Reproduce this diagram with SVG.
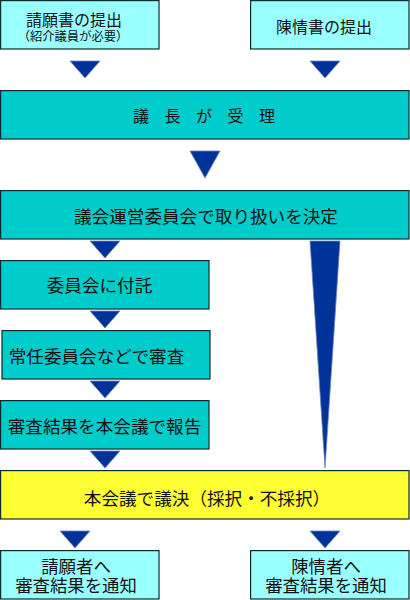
<svg xmlns="http://www.w3.org/2000/svg" width="410" height="600" viewBox="0 0 410 600">
<style>
.box{stroke:#0d2b2b;stroke-width:1.2}
.lt{fill:#99FFFF}
.tl{fill:#00CCCC}
.ye{fill:#FFFF33}
.arr{fill:#003399;stroke:#6f86b8;stroke-width:0.8}
text{font-family:"Noto Sans CJK JP","Noto Sans CJK SC",sans-serif;fill:#111;text-anchor:middle;dominant-baseline:central}
.f16{font-size:16px}
.f12{font-size:12.3px}
.f18{font-size:17.6px}
.f17{font-size:17.4px}
</style>
<rect width="410" height="600" fill="#fff"/>
<g id="connectors">
<polygon class="arr" points="70,61 100,61 85,78"/>
<polygon class="arr" points="310,61 340,61 325,78"/>
<polygon class="arr" points="190,151 220,151 205,178"/>
<polygon class="arr" points="90,241 120,241 105,258"/>
<polygon class="arr" points="310,241 340,241 325,468"/>
<polygon class="arr" points="90,311 120,311 105,328"/>
<polygon class="arr" points="90,381 120,381 105,398"/>
<polygon class="arr" points="90,451 120,451 105,468"/>
<polygon class="arr" points="60,531 90,531 75,548"/>
<polygon class="arr" points="310,531 340,531 325,548"/>
</g>
<g id="n1">
<rect class="box lt" x="0.6" y="0.6" width="158.4" height="48.4"/>
<text><tspan class="f16" x="74" y="18.5">請願書の提出</tspan><tspan class="f12" x="73" y="35.5">（紹介議員が必要）</tspan></text>
</g>
<g id="n2">
<rect class="box lt" x="250.6" y="0.6" width="158.4" height="48.4"/>
<text class="f16" x="324" y="26">陳情書の提出</text>
</g>
<g id="n3">
<rect class="box tl" x="0.6" y="90.6" width="408.4" height="48.4"/>
<text class="f16" x="133" y="115" style="text-anchor:start;letter-spacing:15.5px">議長が受理</text>
</g>
<g id="n4">
<rect class="box tl" x="0.6" y="190.6" width="408.4" height="48.4"/>
<text class="f18" x="206" y="215.5">議会運営委員会で取り扱いを決定</text>
</g>
<g id="n5">
<rect class="box tl" x="0.6" y="260.6" width="208.4" height="48.4"/>
<text class="f18" x="99.5" y="284">委員会に付託</text>
</g>
<g id="n6">
<rect class="box tl" x="2" y="330.6" width="208" height="48.4"/>
<text class="f18" x="96.5" y="355.5">常任委員会などで審査</text>
</g>
<g id="n7">
<rect class="box tl" x="0.6" y="400.6" width="208.4" height="48.4"/>
<text class="f18" x="104.5" y="425">審査結果を本会議で報告</text>
</g>
<g id="n8">
<rect class="box ye" x="0.6" y="470.6" width="408.4" height="48.4"/>
<text class="f18" x="207" y="497">本会議で議決（採択・不採択）</text>
</g>
<g id="n9">
<rect class="box lt" x="0.6" y="550.6" width="158.4" height="48.4"/>
<text class="f17"><tspan x="76" y="564.5">請願者へ</tspan><tspan x="76" y="584">審査結果を通知</tspan></text>
</g>
<g id="n10">
<rect class="box lt" x="250.6" y="550.6" width="158.4" height="48.4"/>
<text class="f17"><tspan x="326" y="564.5">陳情者へ</tspan><tspan x="326" y="584">審査結果を通知</tspan></text>
</g>
</svg>
